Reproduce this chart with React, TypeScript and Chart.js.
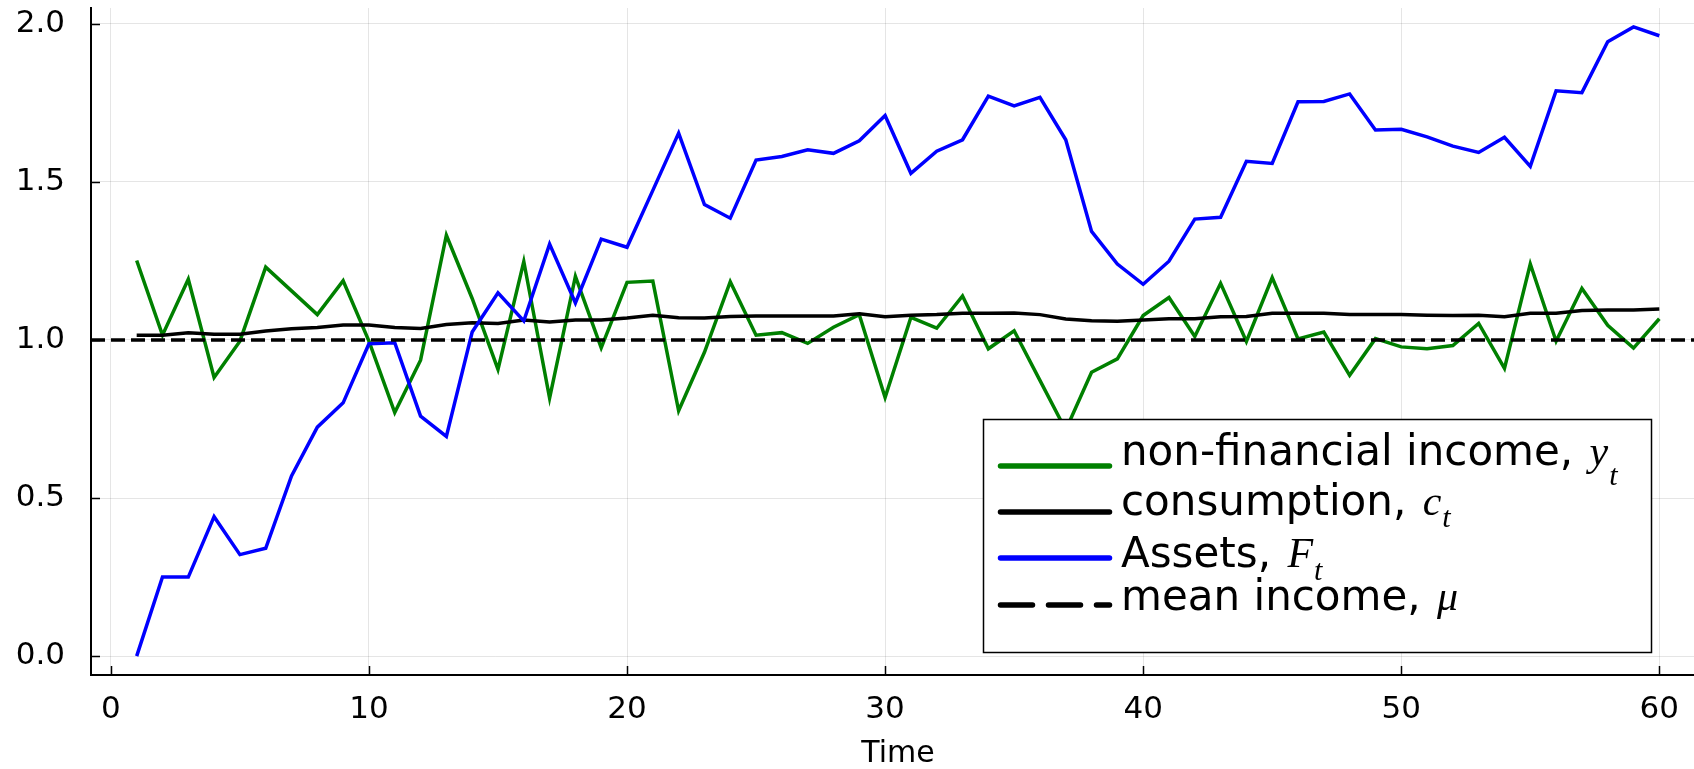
import React, { useEffect, useRef } from "react";
import { Chart, registerables } from "chart.js";

Chart.register(...registerables);

// ---------------- data ----------------
const TIME = [
  1, 2, 3, 4, 5, 6, 7, 8, 9, 10, 11, 12, 13, 14, 15, 16, 17, 18, 19, 20,
  21, 22, 23, 24, 25, 26, 27, 28, 29, 30, 31, 32, 33, 34, 35, 36, 37, 38, 39, 40,
  41, 42, 43, 44, 45, 46, 47, 48, 49, 50, 51, 52, 53, 54, 55, 56, 57, 58, 59, 60,
];

const INCOME = [
  1.251, 1.015, 1.192, 0.881, 0.996, 1.23, 1.155, 1.08, 1.187, 0.996,
  0.77, 0.936, 1.331, 1.131, 0.907, 1.248, 0.816, 1.201, 0.975, 1.182,
  1.186, 0.776, 0.961, 1.184, 1.015, 1.023, 0.989, 1.04, 1.08, 0.818,
  1.071, 1.037, 1.139, 0.972, 1.029, 0.872, 0.715, 0.898, 0.94, 1.077,
  1.134, 1.011, 1.179, 0.995, 1.197, 1.003, 1.025, 0.888, 1.004, 0.978,
  0.972, 0.982, 1.052, 0.91, 1.24, 0.996, 1.163, 1.046, 0.974, 1.067,
];

const CONSUMPTION = [
  1.015, 1.015, 1.023, 1.018, 1.018, 1.028, 1.035, 1.039, 1.047, 1.047,
  1.039, 1.036, 1.049, 1.054, 1.052, 1.063, 1.057, 1.063, 1.063, 1.069,
  1.078, 1.07, 1.069, 1.074, 1.076, 1.076, 1.076, 1.076, 1.083, 1.073,
  1.078, 1.08, 1.084, 1.084, 1.085, 1.08, 1.066, 1.061, 1.059, 1.063,
  1.067, 1.067, 1.073, 1.074, 1.084, 1.084, 1.084, 1.08, 1.08, 1.08,
  1.078, 1.077, 1.078, 1.073, 1.084, 1.084, 1.093, 1.095, 1.095, 1.098,
];

const ASSETS = [
  0.0, 0.25, 0.25, 0.441, 0.321, 0.341, 0.57, 0.724, 0.801, 0.988,
  0.991, 0.759, 0.695, 1.025, 1.149, 1.06, 1.303, 1.117, 1.319, 1.293,
  1.473, 1.654, 1.428, 1.385, 1.569, 1.58, 1.601, 1.59, 1.63, 1.71,
  1.527, 1.597, 1.633, 1.771, 1.74, 1.767, 1.633, 1.343, 1.24, 1.176,
  1.249, 1.382, 1.388, 1.565, 1.558, 1.753, 1.754, 1.778, 1.664, 1.666,
  1.642, 1.613, 1.593, 1.641, 1.549, 1.788, 1.782, 1.943, 1.99, 1.962,
];

const MEAN_INCOME = 1.0;

const X_LIMITS = [-0.77, 61.77];
const Y_LIMITS = [-0.0597, 2.0497];
const X_TICKS = [0, 10, 20, 30, 40, 50, 60];
const X_TICK_LABELS = ["0", "10", "20", "30", "40", "50", "60"];
const Y_TICKS = [0, 0.5, 1.0, 1.5, 2.0];
const Y_TICK_LABELS = ["0.0", "0.5", "1.0", "1.5", "2.0"];
const X_TITLE = "Time";

const LEGEND_TEXT = ["non-financial income, ", "consumption, ", "Assets, ", "mean income, "];
const LEGEND_MATH = ["y", "c", "F", "μ"];
const LEGEND_SUB = ["t", "t", "t", ""];

// ---------------- styles / layout ----------------
const W = 1694;
const H = 769;
const CANVAS_W = 1712;
const PLOT_LEFT = 91;
const PLOT_TOP = 8;
const PLOT_BOTTOM = 675;
const PLOT_RIGHT = 1705;
const LINE_W = 3.5;
const SANS = '"DejaVu Sans", sans-serif';
const MATH = '"Liberation Serif", "DejaVu Serif", serif';

const inwardTicks = {
  id: "inwardTicks",
  afterDraw(chart: any) {
    const { ctx, chartArea, scales } = chart;
    ctx.save();
    ctx.strokeStyle = "#000";
    ctx.lineWidth = 1.5;
    ctx.beginPath();
    X_TICKS.forEach((v) => {
      const px = Math.round(scales.x.getPixelForValue(v)) + 0.5;
      ctx.moveTo(px, chartArea.bottom);
      ctx.lineTo(px, chartArea.bottom - 9);
    });
    Y_TICKS.forEach((v) => {
      const py = Math.round(scales.y.getPixelForValue(v)) + 0.5;
      ctx.moveTo(chartArea.left, py);
      ctx.lineTo(chartArea.left + 9, py);
    });
    ctx.stroke();
    ctx.restore();
  },
};

const plotsLegend = {
  id: "plotsLegend",
  afterDraw(chart: any) {
    const ctx = chart.ctx;
    ctx.save();
    const bx = 983.5,
      by = 419.5,
      bw = 668,
      bh = 233;
    ctx.fillStyle = "#fff";
    ctx.fillRect(bx, by, bw, bh);
    ctx.strokeStyle = "#000";
    ctx.lineWidth = 1.5;
    ctx.strokeRect(bx, by, bw, bh);
    const lineYs = [466, 512, 558, 605];
    const textYs = [465, 515, 567, 610];
    const subOff = [20, 12, 13, 0];
    chart.data.datasets.forEach((ds: any, i: number) => {
      ctx.beginPath();
      ctx.strokeStyle = ds.borderColor;
      ctx.lineWidth = 5.5;
      ctx.lineCap = "round";
      ctx.setLineDash(ds.borderDash && ds.borderDash.length ? [32, 16] : []);
      ctx.moveTo(1000.5, lineYs[i]);
      ctx.lineTo(1109.5, lineYs[i]);
      ctx.stroke();
      ctx.setLineDash([]);
      ctx.fillStyle = "#000";
      ctx.textBaseline = "alphabetic";
      ctx.textAlign = "left";
      ctx.font = `42px ${SANS}`;
      const tx = 1121;
      ctx.fillText(LEGEND_TEXT[i], tx, textYs[i]);
      let mx = tx + ctx.measureText(LEGEND_TEXT[i]).width + 3;
      ctx.font = `italic 42px ${MATH}`;
      ctx.fillText(LEGEND_MATH[i], mx, textYs[i]);
      mx += ctx.measureText(LEGEND_MATH[i]).width + 1;
      if (LEGEND_SUB[i]) {
        ctx.font = `italic 30px ${MATH}`;
        ctx.fillText(LEGEND_SUB[i], mx, textYs[i] + subOff[i]);
      }
    });
    ctx.restore();
  },
};

export default function App() {
  const ref = useRef<HTMLCanvasElement | null>(null);

  useEffect(() => {
    document.body.style.margin = "0";
    if (!ref.current) return;
    const toPts = (arr: number[]) => TIME.map((t, i) => ({ x: t, y: arr[i] }));
    const chart = new Chart(ref.current, {
      type: "line",
      data: {
        datasets: [
          {
            label: "non-financial income",
            data: toPts(INCOME),
            borderColor: "#008000",
            borderWidth: LINE_W,
            pointRadius: 0,
            order: 3,
          },
          {
            label: "consumption",
            data: toPts(CONSUMPTION),
            borderColor: "#000000",
            borderWidth: LINE_W,
            pointRadius: 0,
            order: 2,
          },
          {
            label: "Assets",
            data: toPts(ASSETS),
            borderColor: "#0000ff",
            borderWidth: LINE_W,
            pointRadius: 0,
            order: 1,
          },
          {
            label: "mean income",
            data: [
              { x: X_LIMITS[0], y: MEAN_INCOME },
              { x: X_LIMITS[1], y: MEAN_INCOME },
            ],
            borderColor: "#000000",
            borderWidth: LINE_W,
            borderDash: [14, 6],
            pointRadius: 0,
            order: 0,
          },
        ],
      },
      options: {
        responsive: false,
        animation: false,
        layout: {
          padding: { left: 0, top: PLOT_TOP, right: CANVAS_W - PLOT_RIGHT, bottom: 0 },
        },
        plugins: {
          legend: { display: false },
          tooltip: { enabled: false },
        },
        elements: { line: { tension: 0 }, point: { radius: 0 } },
        scales: {
          x: {
            type: "linear",
            min: X_LIMITS[0],
            max: X_LIMITS[1],
            afterFit: (s: any) => {
              s.height = H - PLOT_BOTTOM;
              s.paddingLeft = 0;
              s.paddingRight = 0;
              s.paddingTop = 0;
              s.paddingBottom = 0;
            },
            afterBuildTicks: (s: any) => {
              s.ticks = X_TICKS.map((v) => ({ value: v }));
            },
            grid: { color: "rgba(0,0,0,0.1)", lineWidth: 1, drawTicks: false },
            border: { display: true, color: "#000", width: 2 },
            ticks: {
              color: "#000",
              font: { family: SANS, size: 31 },
              padding: 16,
              maxRotation: 0,
              autoSkip: false,
              callback: (v: any) => X_TICK_LABELS[X_TICKS.indexOf(Number(v))] ?? "",
            },
            title: {
              display: true,
              text: X_TITLE,
              color: "#000",
              font: { family: SANS, size: 30 },
              padding: { top: 0, bottom: -3 },
            },
          },
          y: {
            type: "linear",
            min: Y_LIMITS[0],
            max: Y_LIMITS[1],
            afterFit: (s: any) => {
              s.width = PLOT_LEFT;
              s.paddingLeft = 0;
              s.paddingRight = 0;
              s.paddingTop = 0;
              s.paddingBottom = 0;
            },
            afterBuildTicks: (s: any) => {
              s.ticks = Y_TICKS.map((v) => ({ value: v }));
            },
            grid: { color: "rgba(0,0,0,0.1)", lineWidth: 1, drawTicks: false },
            border: { display: true, color: "#000", width: 2 },
            ticks: {
              color: "#000",
              font: { family: SANS, size: 31 },
              padding: 26,
              autoSkip: false,
              callback: (v: any) => Y_TICK_LABELS[Y_TICKS.indexOf(Number(v))] ?? "",
            },
          },
        },
      },
      plugins: [inwardTicks, plotsLegend],
    } as any);
    return () => chart.destroy();
  }, []);

  return (
    <div style={{ width: W, height: H, overflow: "hidden", background: "#fff", position: "relative" }}>
      <canvas ref={ref} width={CANVAS_W} height={H} style={{ display: "block" }} />
    </div>
  );
}
